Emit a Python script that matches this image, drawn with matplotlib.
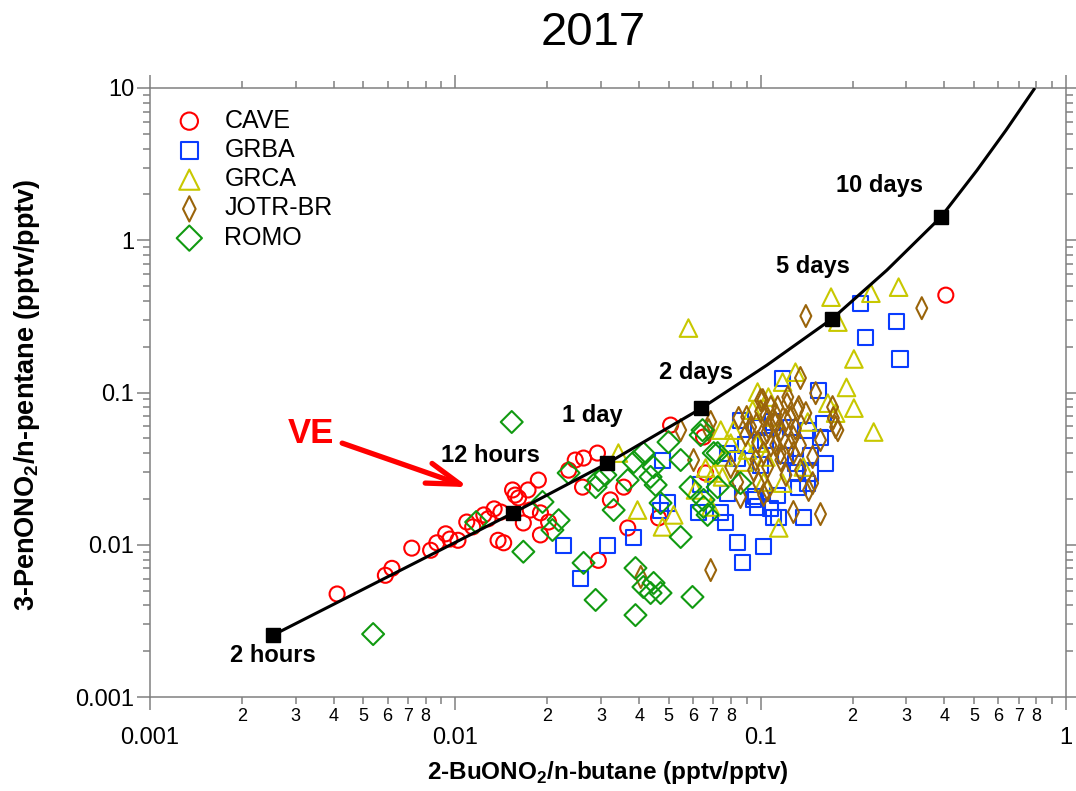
import numpy as np
import matplotlib
matplotlib.use("Agg")
import matplotlib.pyplot as plt
from matplotlib.path import Path
from matplotlib.ticker import LogLocator, FuncFormatter, NullFormatter

plt.rcParams["font.family"] = ["Liberation Sans", "DejaVu Sans"]
plt.rcParams["mathtext.fontset"] = "custom"
plt.rcParams["mathtext.rm"] = "Liberation Sans"
plt.rcParams["mathtext.bf"] = "Liberation Sans:bold"

# ---- measured ratios: 2-BuONO2/n-butane (x) and 3-PenONO2/n-pentane (y) ----
cave_x = [0.0041, 0.0059, 0.0062, 0.0072, 0.0083, 0.0087, 0.0093, 0.0096, 0.0102, 0.0109,
          0.0114, 0.0124, 0.0128, 0.0134, 0.0141, 0.0138, 0.0144, 0.0154, 0.0157, 0.0161,
          0.0167, 0.0173, 0.0187, 0.0190, 0.0190, 0.0202, 0.0176, 0.0235, 0.0247, 0.0263,
          0.0261, 0.0292, 0.0322, 0.0356, 0.0367, 0.0294, 0.0463, 0.0507, 0.0650, 0.0660,
          0.404]
cave_y = [0.00475, 0.0063, 0.0070, 0.0095, 0.0092, 0.0103, 0.0118, 0.0109, 0.0107, 0.0141,
          0.0131, 0.0157, 0.0148, 0.0172, 0.0164, 0.0107, 0.0103, 0.0229, 0.0212, 0.0203,
          0.0139, 0.0229, 0.0266, 0.0162, 0.0116, 0.0141, 0.0169, 0.0309, 0.0360, 0.0371,
          0.0239, 0.0400, 0.0197, 0.0239, 0.0129, 0.0079, 0.0150, 0.0611, 0.0510, 0.0296,
          0.436]

grba_x = [0.0226, 0.0315, 0.0384, 0.0257, 0.0477, 0.0496, 0.0470, 0.0626, 0.0740, 0.0767,
          0.0841, 0.0873, 0.1023, 0.0948, 0.108, 0.110, 0.221, 0.118, 0.155, 0.0859,
          0.0984, 0.1094, 0.125, 0.1426, 0.157, 0.161, 0.163, 0.130, 0.132, 0.146,
          0.0636, 0.078, 0.0964, 0.1137, 0.1333, 0.1426, 0.0977, 0.1146, 0.138, 0.0841,
          0.078, 0.2128, 0.279, 0.286, 0.0893, 0.104, 0.121, 0.100, 0.146]
grba_y = [0.00995, 0.00995, 0.0111, 0.0060, 0.036, 0.0188, 0.0169, 0.0164, 0.0162, 0.0141,
          0.0104, 0.0077, 0.0097, 0.0197, 0.0174, 0.015, 0.231, 0.124, 0.1037, 0.0659,
          0.0593, 0.064, 0.0593, 0.0566, 0.051, 0.063, 0.0344, 0.0344, 0.0296, 0.0296,
          0.0247, 0.0218, 0.0206, 0.0212, 0.0239, 0.0254, 0.0177, 0.0152, 0.015, 0.0371,
          0.040, 0.386, 0.294, 0.166, 0.0452, 0.0487, 0.0388, 0.0334, 0.0388]

grca_x = [0.058, 0.170, 0.2296, 0.283, 0.179, 0.202, 0.191, 0.202, 0.2345, 0.130,
          0.118, 0.106, 0.166, 0.0977, 0.176, 0.074, 0.0798, 0.0906, 0.0942, 0.1426,
          0.138, 0.1023, 0.118, 0.066, 0.0686, 0.104, 0.075, 0.0977, 0.0342, 0.0395,
          0.0477, 0.0519, 0.0612, 0.0702, 0.0757, 0.0815, 0.0879, 0.110, 0.1146]
grca_y = [0.265, 0.423, 0.449, 0.492, 0.290, 0.166, 0.108, 0.079, 0.055, 0.136,
          0.117, 0.0933, 0.0851, 0.1007, 0.0732, 0.0566, 0.0465, 0.0419, 0.0766, 0.064,
          0.0324, 0.0258, 0.0254, 0.0319, 0.0177, 0.0377, 0.0279, 0.0465, 0.040, 0.0169,
          0.0131, 0.0157, 0.0229, 0.0296, 0.0377, 0.0566, 0.0349, 0.0689, 0.0129]

jotr_x = [0.0686, 0.1406, 0.337, 0.157, 0.135, 0.1514, 0.100, 0.1227, 0.132, 0.172,
          0.176, 0.173, 0.179, 0.0686, 0.0676, 0.0847, 0.1016, 0.1137, 0.1333, 0.0927,
          0.106, 0.1164, 0.128, 0.1406, 0.0977, 0.1023, 0.0964, 0.1054, 0.1164, 0.128,
          0.135, 0.148, 0.0798, 0.0841, 0.0984, 0.0859, 0.1023, 0.128, 0.1436, 0.148,
          0.0547, 0.0405, 0.0603, 0.0948, 0.1054, 0.108, 0.112, 0.121, 0.125, 0.112,
          0.0893, 0.104, 0.157, 0.121, 0.105, 0.112, 0.118, 0.097, 0.125, 0.130,
          0.108, 0.116, 0.122, 0.100, 0.135, 0.090]
jotr_y = [0.00682, 0.318, 0.358, 0.0159, 0.1245, 0.099, 0.0891, 0.0933, 0.0766, 0.0802,
          0.0593, 0.068, 0.0566, 0.064, 0.0566, 0.068, 0.0891, 0.0802, 0.0802, 0.0593,
          0.0593, 0.0566, 0.051, 0.0732, 0.0472, 0.040, 0.036, 0.0324, 0.036, 0.040,
          0.0309, 0.0377, 0.0324, 0.0258, 0.0254, 0.0206, 0.0212, 0.0164, 0.0229, 0.0254,
          0.0566, 0.00614, 0.036, 0.0309, 0.0229, 0.0802, 0.063, 0.0659, 0.0452, 0.0452,
          0.0525, 0.0711, 0.0487, 0.0287, 0.055, 0.072, 0.050, 0.062, 0.068, 0.058,
          0.045, 0.040, 0.084, 0.075, 0.045, 0.069]

romo_x = [0.0153, 0.00538, 0.0193, 0.0218, 0.0208, 0.0167, 0.0117, 0.0235, 0.0288, 0.0294,
          0.0330, 0.0263, 0.0288, 0.0389, 0.0389, 0.0413, 0.0436, 0.0470, 0.0446, 0.0598,
          0.0547, 0.0470, 0.0367, 0.0384, 0.0413, 0.0436, 0.0453, 0.0499, 0.0547, 0.0650,
          0.0670, 0.0723, 0.0645, 0.0859, 0.0446, 0.0636, 0.0702, 0.0589, 0.0723, 0.0650,
          0.031]
romo_y = [0.064, 0.00259, 0.0191, 0.0145, 0.0125, 0.0090, 0.0141, 0.0296, 0.0239, 0.0266,
          0.0169, 0.0076, 0.00434, 0.00345, 0.00703, 0.00528, 0.00482, 0.00482, 0.00561, 0.00454,
          0.01124, 0.0188, 0.0266, 0.0349, 0.040, 0.0279, 0.0247, 0.0472, 0.036, 0.0177,
          0.0157, 0.040, 0.0566, 0.0254, 0.0324, 0.0525, 0.040, 0.0239, 0.0239, 0.0197,
          0.0287]

# ---- photochemical clock curve and its time marks ----
clock_x = [0.00253, 0.0154, 0.0314, 0.0639, 0.1047, 0.1718, 0.259, 0.389, 0.511, 0.636, 0.791]
clock_y = [0.00255, 0.0161, 0.0342, 0.0787, 0.151, 0.306, 0.636, 1.418, 2.88, 5.28, 10.0]
mark_x = [0.00253, 0.0154, 0.0314, 0.0639, 0.1718, 0.389]
mark_y = [0.00255, 0.0161, 0.0342, 0.0787, 0.306, 1.418]
mark_labels = ["2 hours", "12 hours", "1 day", "2 days", "5 days", "10 days"]
label_x = [0.00253, 0.0130, 0.0281, 0.0612, 0.148, 0.2456]
label_y = [0.00186, 0.0388, 0.0711, 0.136, 0.676, 2.30]

W, H = 1076, 791
fig = plt.figure(figsize=(W / 100, H / 100), dpi=100)
ax = fig.add_axes([150 / W, 94 / H, 916 / W, 609 / H])
ax.set_xscale("log")
ax.set_yscale("log")

lw = 1.5
thin_diamond = Path([(0, 1), (0.5, 0), (0, -1), (-0.5, 0), (0, 1)],
                    [Path.MOVETO, Path.LINETO, Path.LINETO, Path.LINETO, Path.CLOSEPOLY])
ax.scatter(cave_x, cave_y, marker="o", s=117, facecolors="none", edgecolors="#ff0000",
           linewidths=lw, label="CAVE", zorder=3)
ax.scatter(grba_x, grba_y, marker="s", s=117, facecolors="none", edgecolors="#0a3cff",
           linewidths=lw, label="GRBA", zorder=3)
ax.scatter(grca_x, grca_y, marker="^", s=160, facecolors="none", edgecolors="#c8c800",
           linewidths=lw, label="GRCA", zorder=3)
ax.scatter(jotr_x, jotr_y, marker=thin_diamond, s=250, facecolors="none", edgecolors="#9a640a",
           linewidths=lw, label="JOTR-BR", zorder=3)
ax.scatter(romo_x, romo_y, marker="D", s=125, facecolors="none", edgecolors="#119a11",
           linewidths=lw, label="ROMO", zorder=3)

ax.plot(clock_x, clock_y, color="black", lw=2.2, zorder=5, solid_capstyle="butt")
ax.plot(mark_x, mark_y, ls="none", marker="s", ms=10, color="black", zorder=6)
for t, lx, ly in zip(mark_labels, label_x, label_y):
    ax.text(lx, ly, t, fontsize=17, fontweight="bold", ha="center", va="center", zorder=7)

# highlighted site label and arrow
ax.text(0.00283, 0.0465, "VE", color="#ff0000", fontsize=25, fontweight="bold",
        ha="left", va="baseline", zorder=7)
ax.annotate("", xy=(0.01104, 0.0239), xytext=(0.00426, 0.0465),
            arrowprops=dict(arrowstyle="->,head_length=2.4,head_width=0.75",
                            color="#ff0000", lw=3.8, shrinkA=0, shrinkB=0), zorder=7)

ax.set_xlim(1e-3, 1)
ax.set_ylim(1e-3, 10)

# axes frame and ticks
gray = "#808080"
for sp in ax.spines.values():
    sp.set_color(gray)
    sp.set_linewidth(1.1)

ax.xaxis.set_major_locator(LogLocator(base=10, numticks=10))
ax.xaxis.set_minor_locator(LogLocator(base=10, subs=np.arange(2, 10), numticks=10))
ax.yaxis.set_major_locator(LogLocator(base=10, numticks=10))
ax.yaxis.set_minor_locator(LogLocator(base=10, subs=np.arange(2, 10), numticks=10))


def major_fmt(v, pos):
    return f"{v:g}"


def minor_fmt(v, pos):
    m = int(round(v / 10 ** np.floor(np.log10(v) + 1e-9)))
    return str(m) if 2 <= m <= 8 else ""


ax.xaxis.set_major_formatter(FuncFormatter(major_fmt))
ax.xaxis.set_minor_formatter(FuncFormatter(minor_fmt))
ax.yaxis.set_major_formatter(FuncFormatter(major_fmt))
ax.yaxis.set_minor_formatter(NullFormatter())

ax.tick_params(which="both", direction="out", top=True, right=True, color=gray, width=1.1)
ax.tick_params(which="major", length=9.5)
ax.tick_params(which="minor", length=5)
ax.tick_params(axis="x", which="major", labelsize=17, pad=12)
ax.tick_params(axis="x", which="minor", labelsize=13, pad=3)
ax.tick_params(axis="y", which="major", labelsize=17, pad=2)

leg = ax.legend(loc="upper left", bbox_to_anchor=(0.017, 0.966), frameon=False, fontsize=18,
                handletextpad=0.45, labelspacing=0.21, borderpad=0, borderaxespad=0,
                scatterpoints=1, markerscale=1.15, handlelength=1.9)

fig.text(593 / W, 1 - 33 / H, "2017", fontsize=34, ha="center", va="center")
fig.text(608 / W, 1 - 773 / H, r"2-BuONO$_\mathbf{2}$/n-butane (pptv/pptv)",
         fontsize=17.5, fontweight="bold", ha="center", va="center")
fig.text(27 / W, 1 - 395 / H, r"3-PenONO$_\mathbf{2}$/n-pentane (pptv/pptv)",
         fontsize=19.5, fontweight="bold", ha="center", va="center", rotation=90)

fig.savefig("out.png", dpi=100)
